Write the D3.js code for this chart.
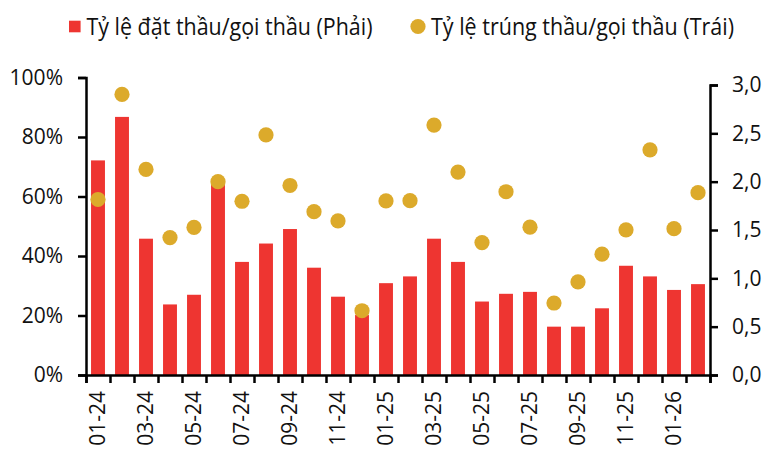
<!DOCTYPE html>
<html>
<head>
<meta charset="utf-8">
<script src="https://cdn.jsdelivr.net/npm/d3@7"></script>
<style>
  body { margin: 0; background: #fff; }
  text { font-family: "Open Sans", sans-serif; fill: #111; }
</style>
</head>
<body>
<div id="chart"></div>
<script>
// months on the x axis
var months = ["01-24","02-24","03-24","04-24","05-24","06-24","07-24","08-24","09-24","10-24","11-24","12-24",
              "01-25","02-25","03-25","04-25","05-25","06-25","07-25","08-25","09-25","10-25","11-25","12-25",
              "01-26","02-26"];
// bars: bid / offered ratio (right axis)
var bidRatio = [2.22, 2.67, 1.41, 0.73, 0.83, 2.00, 1.17, 1.36, 1.51, 1.11, 0.81, 0.62,
                0.95, 1.02, 1.41, 1.17, 0.76, 0.84, 0.86, 0.50, 0.50, 0.69, 1.13, 1.02,
                0.88, 0.94];
// dots: winning / offered ratio in % (left axis)
var winRatio = [59.0, 94.3, 69.1, 46.2, 49.6, 65.0, 58.4, 80.7, 63.7, 54.9, 51.8, 21.6,
                58.5, 58.6, 84.0, 68.2, 44.5, 61.6, 49.7, 24.2, 31.3, 40.6, 48.8, 75.7,
                49.2, 61.3];
var leftTicks = [0, 20, 40, 60, 80, 100];
var rightTicks = [0, 0.5, 1, 1.5, 2, 2.5, 3];
var labelMonths = months.filter(function (d, i) { return i % 2 === 0; });

var width = 766, height = 455;
var barColor = "#ee3531", dotColor = "#dcaa2b";

var svg = d3.select("#chart").append("svg")
  .attr("width", width)
  .attr("height", height);

var x = d3.scaleBand()
  .domain(months)
  .range([86, 710])
  .paddingInner(0.42)
  .paddingOuter(0.21);

var xEdge = d3.scaleLinear().domain([0, months.length]).range([86, 710]);

var yLeft = d3.scaleLinear().domain([0, 100]).range([375, 77.5]);
var yRight = d3.scaleLinear().domain([0, 3]).range([375, 85]);

// bars
svg.append("g").selectAll("rect")
  .data(bidRatio)
  .enter()
  .append("rect")
  .attr("x", function (d, i) { return x(months[i]); })
  .attr("y", function (d) { return yRight(d); })
  .attr("width", x.bandwidth())
  .attr("height", function (d) { return yRight(0) - yRight(d); })
  .attr("fill", barColor);

// dots
svg.append("g").selectAll("circle")
  .data(winRatio)
  .enter()
  .append("circle")
  .attr("cx", function (d, i) { return x(months[i]) + x.bandwidth() / 2; })
  .attr("cy", function (d) { return yLeft(d); })
  .attr("r", 7.6)
  .attr("fill", dotColor);

// left axis
var gl = svg.append("g")
  .attr("transform", "translate(86,0)")
  .call(d3.axisLeft(yLeft).tickValues(leftTicks).tickSize(8).tickPadding(15)
    .tickFormat(function (d) { return d + "%"; }));

// right axis
var gr = svg.append("g")
  .attr("transform", "translate(710,0)")
  .call(d3.axisRight(yRight).tickValues(rightTicks).tickSize(8).tickPadding(14)
    .tickFormat(function (d) { return d3.format(".1f")(d).replace(".", ","); }));

// bottom axis: ticks at every month boundary
var gb = svg.append("g")
  .attr("transform", "translate(0,375)")
  .call(d3.axisBottom(xEdge).tickValues(d3.range(months.length + 1)).tickSize(8).tickFormat(""));

// bottom labels every two months
var gbl = svg.append("g")
  .attr("transform", "translate(0,375)")
  .call(d3.axisBottom(x).tickValues(labelMonths).tickSize(0).tickPadding(0));
gbl.select(".domain").remove();
gbl.selectAll("text")
  .attr("transform", "rotate(-90)")
  .attr("text-anchor", "end")
  .attr("x", -16)
  .attr("y", 0)
  .attr("dy", "0.35em");

[gl, gr, gb].forEach(function (g) {
  g.select(".domain").attr("stroke", "#000").attr("stroke-width", 2.5);
  g.selectAll(".tick line").attr("stroke", "#000").attr("stroke-width", 2.5);
});
svg.selectAll(".tick text")
  .style("font-family", "'Open Sans', sans-serif")
  .style("font-size", "21px")
  .attr("fill", "#111");

// legend
var legend = svg.append("g");
legend.append("rect")
  .attr("x", 69).attr("y", 20.7).attr("width", 11.6).attr("height", 11.6)
  .attr("fill", barColor);
legend.append("text")
  .attr("x", 86.5).attr("y", 35)
  .style("font-size", "23px")
  .attr("textLength", 286).attr("lengthAdjust", "spacingAndGlyphs")
  .text("Tỷ lệ đặt thầu/gọi thầu (Phải)");
legend.append("circle")
  .attr("cx", 418).attr("cy", 26.5).attr("r", 7.6)
  .attr("fill", dotColor);
legend.append("text")
  .attr("x", 431).attr("y", 35)
  .style("font-size", "23px")
  .attr("textLength", 303).attr("lengthAdjust", "spacingAndGlyphs")
  .text("Tỷ lệ trúng thầu/gọi thầu (Trái)");
</script>
</body>
</html>
